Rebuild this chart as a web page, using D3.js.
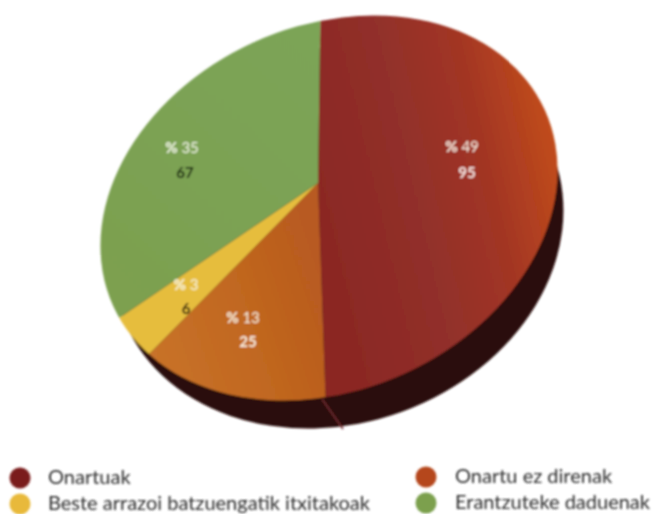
<!DOCTYPE html>
<html><head><meta charset="utf-8"><style>html,body{margin:0;background:#fff}svg{display:block}</style>
<script src="https://cdn.jsdelivr.net/npm/d3@7"></script></head><body><svg id="c" width="654" height="514"></svg>
<script>
const categories=["Onartuak","Onartu ez direnak","Beste arrazoi batzuengatik itxitakoak","Erantzuteke daduenak"];
const percents=[49,13,3,35];
const counts=[95,25,6,67];
const colors=["#7a1f1c","#b5471f","#e8b93a","#7ba04e"];
const topFills=["url(#gRed)","url(#gOrange)","#e6bd3e","url(#gGreen)"];

const svg=d3.select("#c");
const ell={cx:329,cy:208,rx:237,ry:182,rot:-24.4};
const sideEll={cx:338,cy:236,rx:230,ry:187,rot:-20};
const apex={x:318,y:183,r:600,turn:0.8};
const defs=svg.append("defs");
function grad(id,x1,y1,x2,y2,stops,ox=0,oy=0){const g=defs.append("linearGradient").attr("id",id).attr("gradientUnits","userSpaceOnUse")
 .attr("x1",x1-ox).attr("x2",x2-ox).attr("y1",y1-oy).attr("y2",y2-oy);
 stops.forEach(s=>g.append("stop").attr("offset",s[0]).attr("stop-color",s[1]));}
grad("gRed",320,210,565,150,[[0,"#8b2824"],[0.4,"#92302a"],[0.68,"#a23524"],[0.86,"#b5431f"],[1,"#c44e18"]],apex.x,apex.y);
grad("gOrange",150,340,325,280,[[0,"#c87229"],[0.6,"#c0661f"],[1,"#b85a20"]],apex.x,apex.y);
grad("gGreen",100,300,320,60,[[0,"#7da04f"],[1,"#7ba457"]],apex.x,apex.y);
grad("gSide",150,0,565,0,[[0,"#2a0d0a"],[0.5,"#2a0c0d"],[1,"#35100e"]]);
const blur=defs.append("filter").attr("id","soft").attr("x","-5%").attr("y","-5%").attr("width","110%").attr("height","110%");
blur.append("feGaussianBlur").attr("stdDeviation",0.9);
defs.append("clipPath").attr("id","topClip").append("ellipse").attr("rx",ell.rx).attr("ry",ell.ry)
 .attr("transform",`translate(${ell.cx},${ell.cy}) rotate(${ell.rot})`);

const root=svg.append("g").attr("filter","url(#soft)");
root.append("ellipse").attr("rx",sideEll.rx).attr("ry",sideEll.ry).attr("fill","url(#gSide)")
 .attr("transform",`translate(${sideEll.cx},${sideEll.cy}) rotate(${sideEll.rot})`);
const pie=d3.pie().sort(null).value(d=>d);
const arcs=pie(counts);
const arc=d3.arc().innerRadius(0).outerRadius(apex.r);
const face=root.append("g").attr("clip-path","url(#topClip)");
face.append("g").attr("transform",`translate(${apex.x},${apex.y}) rotate(${apex.turn})`)
 .selectAll("path").data(arcs).join("path").attr("d",arc).attr("fill",(d,i)=>topFills[i]);
root.append("path").attr("d",d3.line()([[322,399],[343,429]])).attr("stroke","#6e2c30").attr("stroke-width",1.6).attr("fill","none");

const labelPos=[[462,147,"#f8e8dc",467,173,"#f8e4e0"],[243,318,"#f8ecd8",248,342,"#fbeedd"],[186,285,"#f8f4d8",186,309,"#1c0d04"],[182,148,"#eff4e2",185,173,"#10200a"]];
percents.forEach((p,i)=>{
 const l=labelPos[i];
 const t=root.append("text").attr("x",l[0]).attr("y",l[1]+5).attr("text-anchor","middle").attr("font-family","Lato").attr("font-size",15).attr("fill",l[2]);
 t.append("tspan").attr("font-weight",900).text("%");
 t.append("tspan").text(" "+p);
 root.append("text").attr("x",l[3]).attr("y",l[4]+5).attr("text-anchor","middle").attr("font-family","Lato").attr("font-weight",700).attr("font-size",15).attr("fill",l[5]).text(counts[i]);
});
const lp=[[20,478,48],[20,504,48],[426,477,455],[426,503,455]];
const order=[0,2,1,3];
order.forEach((c,i)=>{
 const p=lp[i];
 root.append("circle").attr("cx",p[0]).attr("cy",p[1]).attr("r",10.5).attr("fill",colors[c]);
 root.append("text").attr("x",p[2]).attr("y",p[1]+6).attr("font-family","Lato").attr("font-size",20).attr("fill","#2e2e2e").text(categories[c]);
});
</script></body></html>
